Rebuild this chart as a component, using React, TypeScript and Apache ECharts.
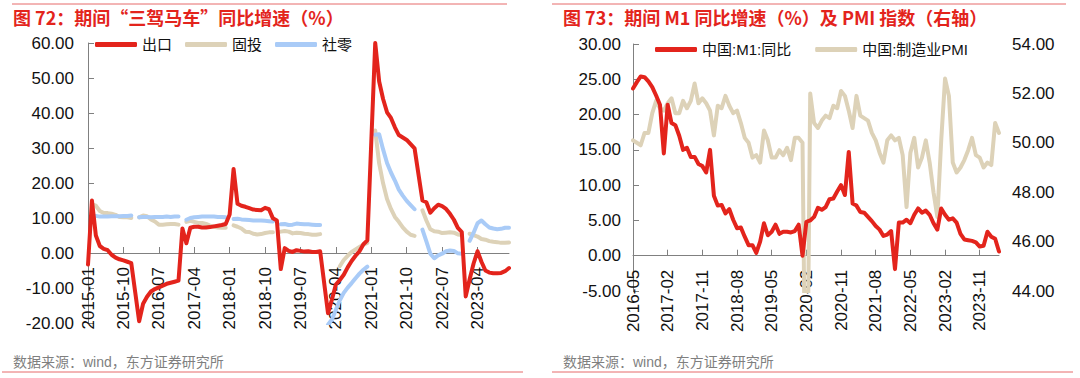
import React, { useEffect, useRef } from "react";
import * as echarts from "echarts";

const FONT = '"Liberation Sans", "Noto Sans CJK SC", sans-serif';
const TITLE_FONT = '"Noto Sans CJK SC", "Liberation Sans", sans-serif';

// ---------- Left panel: 2015-01 .. 2023-12 ----------
const leftCategories: string[] = [];
for (let y = 2015; y <= 2023; y++) {
  for (let m = 1; m <= 12; m++) leftCategories.push(`${y}-${m < 10 ? "0" + m : m}`);
}

// 出口 (cumulative YoY, %)
const exportsYoY: (number | null)[] = [
  -3.3, 15.0, 5.0, 2.0, 1.2, 0.8, -0.5, -1.3, -1.8, -2.1, -2.5, -2.9,
  -11.2, -19.5, -14.5, -12.5, -11.0, -10.3, -9.8, -9.3, -8.8, -8.5, -8.2, -7.9,
  7.0, 2.8, 7.2, 7.5, 7.5, 7.3, 7.3, 7.4, 7.6, 7.8, 8.0, 8.3,
  11.0, 24.0, 14.1, 13.5, 13.2, 12.8, 12.4, 12.3, 12.2, 12.9, 12.5, 9.9,
  9.3, -4.6, 1.4, 0.6, 0.3, 0.8, 0.6, 0.4, 0.5, 0.3, 0.3, 0.5,
  null, -17.2, -13.3, -9.0, -7.7, -6.2, -4.1, -2.3, -0.8, 0.5, 2.5, 3.6,
  null, 60.0, 49.0, 44.0, 40.2, 38.6, 35.9, 33.7, 33.0, 32.3, 31.1, 29.9,
  null, 15.0, 14.5, 11.5, 12.8, 13.8, 13.4, 12.6, 11.2, 9.5, 7.2, 6.0,
  -12.4, -7.5, -3.0, 0.5, -2.5, -5.0, -5.6, -5.8, -5.8, -5.7, -5.2, -4.3,
];

// 固投 (cumulative YoY, %)
const faiYoY: (number | null)[] = [
  null, 13.9, 13.5, 12.0, 11.4, 11.4, 11.2, 10.9, 10.3, 10.2, 10.2, 10.0,
  null, 10.2, 10.7, 10.5, 9.6, 9.0, 8.1, 8.1, 8.2, 8.3, 8.3, 8.1,
  null, 8.9, 9.2, 8.9, 8.6, 8.6, 8.3, 7.8, 7.5, 7.3, 7.2, 7.2,
  null, 7.9, 7.5, 7.0, 6.1, 6.0, 5.5, 5.3, 5.4, 5.7, 5.9, 5.9,
  null, 6.1, 6.3, 6.1, 5.6, 5.8, 5.7, 5.5, 5.4, 5.2, 5.2, 5.4,
  null, null, null, null, -3.8, -2.0, -0.8, 0.3, 1.0, 1.7, 2.4, 2.9,
  null, 35.0, 25.6, 19.9, 15.4, 12.6, 10.3, 8.9, 7.3, 6.1, 5.2, 4.9,
  null, 12.2, 9.3, 6.8, 6.2, 6.1, 5.7, 5.8, 5.9, 5.8, 5.3, 5.1,
  null, 5.5, 5.1, 4.7, 4.0, 3.8, 3.4, 3.2, 3.1, 2.9, 2.9, 3.0,
];

// 社零 (cumulative YoY, %)
const retailYoY: (number | null)[] = [
  null, 10.7, 10.6, 10.4, 10.4, 10.4, 10.5, 10.5, 10.5, 10.6, 10.6, 10.7,
  null, 10.2, 10.3, 10.3, 10.2, 10.3, 10.3, 10.3, 10.4, 10.3, 10.4, 10.4,
  null, 9.5, 10.0, 10.2, 10.3, 10.4, 10.4, 10.4, 10.4, 10.3, 10.3, 10.2,
  null, 9.7, 9.8, 9.6, 9.5, 9.4, 9.3, 9.3, 9.3, 9.2, 9.1, 9.0,
  null, 8.2, 8.3, 8.0, 8.1, 8.4, 8.3, 8.2, 8.2, 8.1, 8.0, 8.0,
  null, -20.5, -19.0, -16.2, -13.5, -11.4, -9.9, -8.6, -7.2, -5.9, -4.8, -3.9,
  null, 33.8, 33.9, 29.6, 25.7, 23.0, 20.7, 18.1, 16.4, 14.9, 13.7, 12.5,
  null, 6.7, 3.3, -0.2, -1.5, -0.7, -0.2, 0.5, 0.7, 0.6, -0.1, -0.2,
  null, 3.5, 5.8, 8.5, 9.3, 8.2, 7.3, 7.0, 6.8, 6.9, 7.2, 7.2,
];

// ---------- Right panel: 2016-05 .. 2024-04 ----------
const rightCategories: string[] = [];
for (let y = 2016; y <= 2024; y++) {
  for (let m = 1; m <= 12; m++) {
    if (y === 2016 && m < 5) continue;
    if (y === 2024 && m > 4) continue;
    rightCategories.push(`${y}-${m < 10 ? "0" + m : m}`);
  }
}

// 中国:M1:同比 (%)
const m1YoY: number[] = [
  23.7, 24.6, 25.4, 25.3, 24.7, 23.9, 22.7, 21.4,
  14.5, 21.4, 18.8, 18.5, 17.0, 15.0, 15.3, 14.0, 14.0, 13.0, 12.7, 11.8,
  15.0, 8.5, 7.1, 7.2, 6.0, 6.6, 5.1, 3.9, 4.0, 2.7, 1.5, 1.5,
  0.4, 2.0, 4.6, 2.9, 3.4, 4.4, 3.1, 3.4, 3.4, 3.3, 3.5, 4.4,
  0.0, 4.8, 5.0, 5.5, 6.8, 6.5, 6.9, 8.0, 8.1, 9.1, 10.0, 8.6,
  14.7, 7.4, 7.1, 6.2, 6.1, 5.5, 4.9, 4.2, 3.7, 2.8, 3.0, 3.5,
  -1.9, 4.7, 4.7, 5.1, 4.6, 5.8, 6.7, 6.1, 6.4, 5.8, 4.6, 3.7,
  6.7, 5.8, 5.1, 5.3, 4.7, 3.1, 2.3, 2.2, 2.1, 1.9, 1.3, 1.4,
  3.4, 2.7, 2.4, 0.6,
];

// 中国:制造业PMI
const pmi: number[] = [
  50.1, 50.0, 49.9, 50.4, 50.4, 51.2, 51.7, 51.4,
  51.3, 51.6, 51.8, 51.2, 51.2, 51.7, 51.4, 51.7, 52.4, 51.6, 51.8, 51.6,
  51.3, 50.3, 51.5, 51.4, 51.9, 51.5, 51.2, 51.3, 50.8, 50.2, 50.0, 49.4,
  49.5, 49.2, 50.5, 50.1, 49.4, 49.4, 49.7, 49.5, 49.8, 49.3, 50.2, 50.2,
  50.0, 35.7, 52.0, 50.8, 50.6, 50.9, 51.1, 51.0, 51.5, 51.4, 52.1, 51.9,
  51.3, 50.6, 51.9, 51.1, 51.0, 50.9, 50.4, 50.1, 49.6, 49.2, 50.1, 50.3,
  50.1, 50.2, 49.5, 47.4, 49.6, 50.2, 49.0, 49.4, 50.1, 49.2, 48.0, 47.0,
  50.1, 52.6, 51.9, 49.2, 48.8, 49.0, 49.3, 49.7, 50.2, 49.5, 49.4, 49.0,
  49.2, 49.1, 50.8, 50.4,
];

const titleLeft = "图 72：期间“三驾马车”同比增速（%）";
const titleRight = "图 73：期间 M1 同比增速（%）及 PMI 指数（右轴）";
const sourceText = "数据来源：wind，东方证券研究所";

const RED = "#e3241c";
const BEIGE = "#ddd2b8";
const BLUE = "#a9cbf7";
const AXIS = "#808080";

export default function App() {
  const ref = useRef<HTMLDivElement>(null);
  useEffect(() => {
    if (!ref.current) return;
    const chart = echarts.init(ref.current, undefined, { renderer: "svg" });
    const axisLabel = { fontSize: 17, color: "#111", fontFamily: FONT };
    // x axis placed on the zero line via a negative offset (zero is 70px / 35.3px above grid bottom)
    const xCommon = {
      type: "category" as const,
      boundaryGap: false,
      position: "bottom" as const,
      axisLine: { onZero: false, lineStyle: { color: AXIS, width: 1 } },
      axisTick: { inside: true, length: 6, interval: 8, lineStyle: { color: AXIS } },
      axisLabel: { ...axisLabel, interval: 8, rotate: 90, margin: 14 },
      splitLine: { show: false },
    };
    const lineSeries = (name: string, data: any[], color: string, xi: number, yi: number, extra: any = {}) => ({
      name,
      type: "line",
      data,
      xAxisIndex: xi,
      yAxisIndex: yi,
      showSymbol: false,
      symbol: "none",
      lineStyle: { color, width: 4, cap: "round", join: "round" },
      itemStyle: { color },
      ...extra,
    });
    chart.setOption({
      animation: false,
      grid: [
        { left: 88, top: 43, width: 421, height: 280, outerBoundsMode: "none", containLabel: false },
        { left: 633, top: 44, width: 366, height: 247, outerBoundsMode: "none", containLabel: false },
      ],
      xAxis: [
        { ...xCommon, gridIndex: 0, data: leftCategories, offset: -70 },
        { ...xCommon, gridIndex: 1, data: rightCategories, offset: -35.3 },
      ],
      yAxis: [
        {
          type: "value", gridIndex: 0, min: -20, max: 60, interval: 10,
          axisLine: { show: true, onZero: false, lineStyle: { color: AXIS, width: 1 } },
          axisTick: { show: true, inside: true, length: 6, lineStyle: { color: AXIS } },
          splitLine: { show: false },
          axisLabel: { ...axisLabel, margin: 14, formatter: (v: number) => v.toFixed(2) },
        },
        {
          type: "value", gridIndex: 1, min: -5, max: 30, interval: 5,
          axisLine: { show: true, onZero: false, lineStyle: { color: AXIS, width: 1 } },
          axisTick: { show: true, inside: true, length: 6, lineStyle: { color: AXIS } },
          splitLine: { show: false },
          axisLabel: { ...axisLabel, margin: 12, formatter: (v: number) => v.toFixed(2) },
        },
        {
          type: "value", gridIndex: 1, position: "right", min: 44, max: 54, interval: 2,
          axisLine: { show: false, onZero: false },
          axisTick: { show: false },
          splitLine: { show: false },
          axisLabel: { ...axisLabel, margin: 13, formatter: (v: number) => v.toFixed(2) },
        },
      ],
      legend: [
        {
          data: ["出口", "固投", "社零"],
          left: 95, top: 37, padding: 0,
          icon: "roundRect", itemWidth: 42, itemHeight: 5, itemGap: 13,
          textStyle: { fontSize: 15, color: "#111", fontFamily: FONT },
        },
        {
          data: ["中国:M1:同比", "中国:制造业PMI"],
          left: 655, top: 42, padding: 0,
          icon: "roundRect", itemWidth: 42, itemHeight: 5, itemGap: 24,
          textStyle: { fontSize: 15, color: "#111", fontFamily: FONT },
        },
      ],
      series: [
        lineSeries("固投", faiYoY, BEIGE, 0, 0),
        lineSeries("社零", retailYoY, BLUE, 0, 0),
        lineSeries("出口", exportsYoY, RED, 0, 0, { connectNulls: true }),
        lineSeries("中国:制造业PMI", pmi, BEIGE, 1, 2),
        lineSeries("中国:M1:同比", m1YoY, RED, 1, 1),
      ],
      graphic: [
        { type: "line", shape: { x1: 12, y1: 4, x2: 507, y2: 4 }, style: { stroke: "#e66a6a", lineWidth: 1 } },
        { type: "line", shape: { x1: 552, y1: 4, x2: 1066, y2: 4 }, style: { stroke: "#e66a6a", lineWidth: 1 } },
        { type: "line", shape: { x1: 2, y1: 372, x2: 523, y2: 372 }, style: { stroke: "#e66a6a", lineWidth: 1 } },
        { type: "line", shape: { x1: 552, y1: 372, x2: 1073, y2: 372 }, style: { stroke: "#e66a6a", lineWidth: 1 } },
        {
          type: "text", x: 13, y: 17,
          style: { text: titleLeft, fill: RED, font: `bold 18px ${TITLE_FONT}`, verticalAlign: "middle" },
        },
        {
          type: "text", x: 563, y: 17,
          style: { text: titleRight, fill: RED, font: `bold 18px ${TITLE_FONT}`, verticalAlign: "middle" },
        },
        {
          type: "text", x: 13, y: 362,
          style: { text: sourceText, fill: "#7f7f7f", font: `14px ${FONT}`, verticalAlign: "middle" },
        },
        {
          type: "text", x: 563, y: 362,
          style: { text: sourceText, fill: "#7f7f7f", font: `14px ${FONT}`, verticalAlign: "middle" },
        },
      ],
    });
    return () => chart.dispose();
  }, []);
  return (
    <div
      ref={ref}
      style={{ position: "absolute", left: 0, top: 0, width: 1080, height: 378, background: "#fff" }}
    />
  );
}
